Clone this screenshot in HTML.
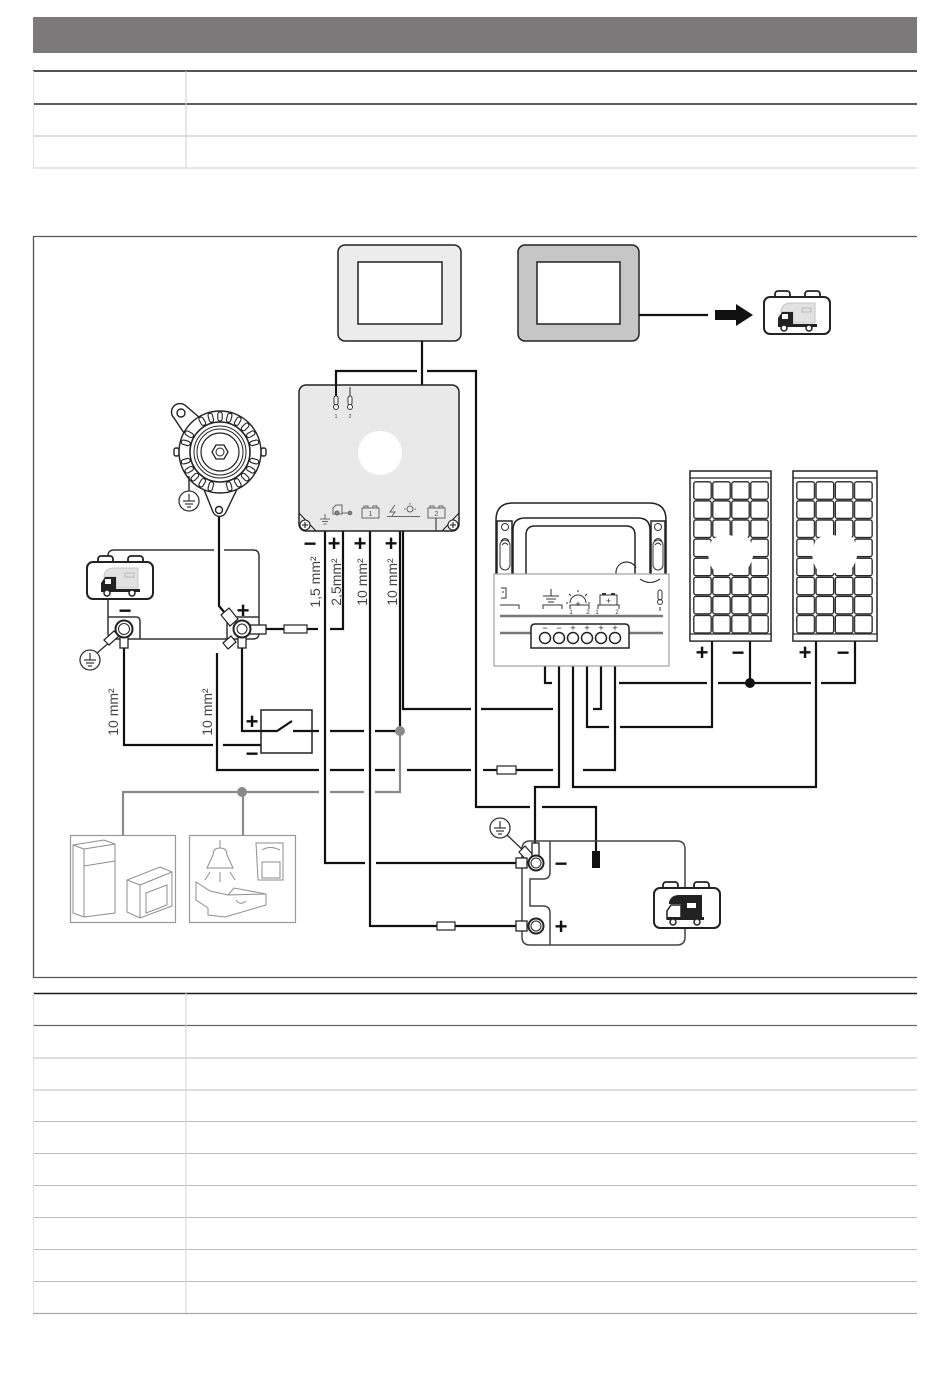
<!DOCTYPE html>
<html><head><meta charset="utf-8"><style>
html,body{margin:0;padding:0;background:#fff;}
svg{display:block;}
text{font-family:"Liberation Sans",sans-serif;}
</style></head><body>
<svg width="950" height="1392" viewBox="0 0 950 1392" xmlns="http://www.w3.org/2000/svg">
<defs>
<pattern id="cellsA" patternUnits="userSpaceOnUse" x="693" y="481" width="19" height="19.1">
<rect x="0.8" y="0.8" width="17.4" height="17.5" rx="2" fill="#fff" stroke="#222" stroke-width="1.3"/>
</pattern>
<pattern id="cellsB" patternUnits="userSpaceOnUse" x="796" y="481" width="19.25" height="19.1">
<rect x="0.8" y="0.8" width="17.6" height="17.5" rx="2" fill="#fff" stroke="#222" stroke-width="1.3"/>
</pattern>
<rect id="fin" x="-2.2" y="-40" width="4.4" height="9" rx="2.2" fill="#fff" stroke="#222" stroke-width="1.1"/>
<g id="truckLight">
<rect x="11" y="-6" width="15" height="8" rx="3" fill="#fff" stroke="#222" stroke-width="1.8"/>
<rect x="41" y="-6" width="15" height="8" rx="3" fill="#fff" stroke="#222" stroke-width="1.8"/>
<rect x="0" y="0" width="66" height="37" rx="6" fill="#fff" stroke="#222" stroke-width="2"/>
<path d="M17,13 Q19,6 27,6 H51 V26 H29 V15 H17 Z" fill="#e2e2e2" stroke="#c4c4c4" stroke-width="1"/>
<rect x="38" y="11" width="9" height="4" fill="none" stroke="#bbb" stroke-width="1"/>
<path d="M14,29 V21 L18,15 H29 V29 Z" fill="#222"/>
<rect x="18" y="17" width="6" height="5" fill="#fff"/>
<rect x="14" y="27" width="39" height="3" fill="#222"/>
<circle cx="20" cy="31" r="3" fill="#fff" stroke="#222" stroke-width="1.5"/>
<circle cx="45" cy="31" r="3" fill="#fff" stroke="#222" stroke-width="1.5"/>
</g>
<g id="ground">
<circle cx="0" cy="0" r="10" fill="#fff" stroke="#333" stroke-width="1.3"/>
<line x1="0" y1="-7" x2="0" y2="0" stroke="#333" stroke-width="1.2"/>
<line x1="-6" y1="0" x2="6" y2="0" stroke="#333" stroke-width="1.2"/>
<line x1="-4" y1="3" x2="4" y2="3" stroke="#333" stroke-width="1.2"/>
<line x1="-2" y1="6" x2="2" y2="6" stroke="#333" stroke-width="1.2"/>
</g>
</defs>

<!-- Header bar -->
<rect x="33" y="17" width="884" height="36" fill="#7b7979"/>

<!-- Top table -->
<line x1="33" y1="71" x2="917" y2="71" stroke="#1a1a1a" stroke-width="1.6"/>
<line x1="33" y1="104" x2="917" y2="104" stroke="#2a2a2a" stroke-width="1.6"/>
<line x1="33" y1="136" x2="917" y2="136" stroke="#bdbdbd" stroke-width="1"/>
<line x1="33" y1="168" x2="917" y2="168" stroke="#cfcfcf" stroke-width="1"/>
<line x1="186" y1="71" x2="186" y2="168" stroke="#cfcfcf" stroke-width="1"/>
<line x1="33.5" y1="71" x2="33.5" y2="168" stroke="#e0e0e0" stroke-width="1"/>

<!-- Diagram frame -->
<path d="M917,236.5 H33.5 V977.5 H917" fill="none" stroke="#555" stroke-width="1.3"/>

<!-- Bottom table -->
<line x1="33" y1="993.5" x2="917" y2="993.5" stroke="#1a1a1a" stroke-width="1.6"/>
<line x1="33" y1="1025.5" x2="917" y2="1025.5" stroke="#666" stroke-width="1.3"/>
<g stroke="#bdbdbd" stroke-width="1">
<line x1="33" y1="1058" x2="917" y2="1058"/>
<line x1="33" y1="1090" x2="917" y2="1090"/>
<line x1="33" y1="1121.5" x2="917" y2="1121.5"/>
<line x1="33" y1="1153.5" x2="917" y2="1153.5"/>
<line x1="33" y1="1185.5" x2="917" y2="1185.5"/>
<line x1="33" y1="1217.5" x2="917" y2="1217.5"/>
<line x1="33" y1="1249.5" x2="917" y2="1249.5"/>
<line x1="33" y1="1281.5" x2="917" y2="1281.5"/>
</g>
<line x1="33" y1="1313.5" x2="917" y2="1313.5" stroke="#a8a8a8" stroke-width="1.3"/>
<line x1="186" y1="993" x2="186" y2="1313" stroke="#d0d0d0" stroke-width="1"/>
<line x1="33.5" y1="993" x2="33.5" y2="1313" stroke="#e0e0e0" stroke-width="1"/>

<!-- ===== Displays ===== -->
<rect x="338" y="245" width="123" height="96" rx="7" fill="#ececec" stroke="#222" stroke-width="1.5"/>
<rect x="358" y="262" width="84" height="62" fill="#fff" stroke="#222" stroke-width="1.5"/>
<rect x="518" y="245" width="121" height="96" rx="7" fill="#c6c6c6" stroke="#222" stroke-width="1.5"/>
<rect x="537" y="262" width="83" height="62" fill="#fff" stroke="#222" stroke-width="1.5"/>
<line x1="639" y1="315" x2="708" y2="315" stroke="#111" stroke-width="2.2"/>
<rect x="715" y="310" width="22" height="10" fill="#111"/>
<polygon points="736,304 753,315 736,326" fill="#111"/>
<use href="#truckLight" transform="translate(764,297)"/>

<!-- ===== Wires (black) ===== -->
<g fill="none" stroke="#111" stroke-width="2.2" stroke-linejoin="miter">
<line x1="422" y1="341" x2="422" y2="385"/>
<polyline points="336,397 336,371 417,371"/>
<polyline points="427,371 476,371 476,807 530,807"/>
<polyline points="542,807 596,807 596,852"/>
<!-- control unit outputs -->
<polyline points="325,524 325,863 365,863"/>
<line x1="376" y1="863" x2="516" y2="863"/>
<polyline points="343,513 343,629 330,629"/>
<line x1="318" y1="629" x2="307" y2="629"/>
<line x1="284" y1="629" x2="266" y2="629"/>
<polyline points="370,518 370,926 437,926"/>
<line x1="455" y1="926" x2="516" y2="926"/>
<polyline points="403,516 403,709 471,709"/>
<line x1="481" y1="709" x2="553" y2="709"/>
<line x1="400" y1="516" x2="400" y2="731"/>
<!-- switch line -->
<line x1="293" y1="731" x2="319" y2="731"/>
<line x1="330" y1="731" x2="364" y2="731"/>
<line x1="375" y1="731" x2="400" y2="731"/>
<!-- y=770 line -->
<polyline points="217,653 217,770 319,770"/>
<line x1="330" y1="770" x2="364" y2="770"/>
<line x1="375" y1="770" x2="395" y2="770"/>
<line x1="407" y1="770" x2="471" y2="770"/>
<line x1="483" y1="770" x2="497" y2="770"/>
<line x1="516" y1="770" x2="553" y2="770"/>
<!-- starter battery negative to switch -->
<polyline points="124,648 124,745 213,745"/>
<line x1="223" y1="745" x2="261" y2="745"/>
<polyline points="242,648 242,731 277,731 292,721"/>
<!-- alternator to battery + -->
<polyline points="219,515 219,606 230,619"/>
<!-- solar terminals -->
<polyline points="545,643 545,683 552,683"/>
<line x1="619" y1="683" x2="707" y2="683"/>
<line x1="718" y1="683" x2="811" y2="683"/>
<polyline points="821,683 855,683 855,641"/>
<line x1="750" y1="641" x2="750" y2="683"/>
<polyline points="559,643 559,787 535,787 535,843"/>
<polyline points="573,643 573,787 816,787 816,641"/>
<polyline points="587,643 587,727 609,727"/>
<polyline points="620,727 712,727 712,641"/>
<polyline points="601,643 601,709 593,709"/>
<polyline points="615,643 615,770 583,770"/>
</g>
<circle cx="750" cy="683" r="5" fill="#111"/>
<rect x="592" y="851" width="8" height="17" fill="#111"/>

<!-- fuses -->
<rect x="284" y="625" width="23" height="8" fill="#fff" stroke="#222" stroke-width="1.2"/>
<rect x="497" y="766" width="19" height="8" fill="#fff" stroke="#222" stroke-width="1.2"/>
<rect x="437" y="922" width="18" height="8" fill="#fff" stroke="#222" stroke-width="1.2"/>

<!-- gray wires -->
<g fill="none" stroke="#8a8a8a" stroke-width="2.2">
<polyline points="400,731 400,792 375,792"/>
<line x1="364" y1="792" x2="330" y2="792"/>
<polyline points="319,792 123,792 123,835"/>
<line x1="243" y1="792" x2="243" y2="835"/>
</g>
<circle cx="400" cy="731" r="5" fill="#8a8a8a"/>
<circle cx="242" cy="792" r="5" fill="#8a8a8a"/>

<!-- ===== Control unit ===== -->
<rect x="299" y="385" width="160" height="146" rx="7" fill="#e9e9e9" stroke="#222" stroke-width="1.5"/>
<circle cx="380" cy="453" r="22" fill="#fff"/>
<line x1="336" y1="385" x2="336" y2="397" stroke="#111" stroke-width="2"/>
<g stroke="#333" stroke-width="1" fill="#fff">
<rect x="334" y="396" width="4" height="9" rx="2"/>
<circle cx="336" cy="407" r="2.5"/>
<line x1="350" y1="387" x2="350" y2="397"/>
<rect x="348" y="396" width="4" height="9" rx="2"/>
<circle cx="350" cy="407" r="2.5"/>
</g>
<text x="336" y="418" font-size="5" text-anchor="middle" fill="#444">1</text>
<text x="350" y="418" font-size="5" text-anchor="middle" fill="#444">2</text>
<!-- corner screws -->
<g stroke="#222" stroke-width="1.1" fill="#fff">
<line x1="299" y1="513" x2="316" y2="531"/>
<circle cx="305" cy="525" r="5"/>
<line x1="302" y1="525" x2="308" y2="525"/><line x1="305" y1="522" x2="305" y2="528"/>
<line x1="459" y1="513" x2="442" y2="531"/>
<circle cx="453" cy="525" r="5"/>
<line x1="450" y1="525" x2="456" y2="525"/><line x1="453" y1="522" x2="453" y2="528"/>
</g>
<!-- bottom icons -->
<g stroke="#666" stroke-width="1" fill="none">
<line x1="325" y1="514" x2="325" y2="519"/>
<line x1="320" y1="519" x2="330" y2="519"/>
<line x1="322" y1="521.5" x2="328" y2="521.5"/>
<line x1="323.5" y1="524" x2="326.5" y2="524"/>
<path d="M333,514 V508 L336,505 H342 V514 Z"/>
<circle cx="337" cy="513" r="2" fill="#888"/>
<line x1="342" y1="513" x2="349" y2="513"/>
<circle cx="350" cy="513" r="1.8" fill="#888"/>
<rect x="362" y="508" width="17" height="10"/>
<rect x="364" y="506" width="4" height="2"/><rect x="373" y="506" width="4" height="2"/>
<path d="M395,505 L390,512 H395 L392,516"/>
<circle cx="410" cy="509" r="3"/>
<line x1="410" y1="503" x2="410" y2="504.5"/><line x1="404" y1="509" x2="405.5" y2="509"/><line x1="414.5" y1="509" x2="416" y2="509"/>
<line x1="387" y1="516.5" x2="420" y2="516.5"/>
<rect x="428" y="508" width="17" height="10"/>
<rect x="430" y="506" width="4" height="2"/><rect x="439" y="506" width="4" height="2"/>
</g>
<text x="370.5" y="516" font-size="7" text-anchor="middle" fill="#555">1</text>
<text x="436.5" y="516" font-size="7" text-anchor="middle" fill="#555">2</text>
<line x1="436" y1="518" x2="436" y2="531" stroke="#444" stroke-width="1.2"/>

<!-- +/- labels under unit -->
<g font-size="22" font-weight="bold" fill="#111" text-anchor="middle">
<text x="310" y="551">−</text>
<text x="334" y="551">+</text>
<text x="360" y="551">+</text>
<text x="391" y="551">+</text>
</g>
<!-- cross-section labels -->
<g font-size="14" fill="#444" text-anchor="middle">
<text x="320" y="582" transform="rotate(-90 320 582)">1,5 mm²</text>
<text x="341" y="582" transform="rotate(-90 341 582)">2,5mm²</text>
<text x="367" y="582" transform="rotate(-90 367 582)">10 mm²</text>
<text x="397" y="582" transform="rotate(-90 397 582)">10 mm²</text>
<text x="118" y="712" transform="rotate(-90 118 712)">10 mm²</text>
<text x="212" y="712" transform="rotate(-90 212 712)">10 mm²</text>
</g>

<!-- ===== Alternator ===== -->
<g stroke="#222" stroke-width="1.4" fill="#fff">
<path d="M200,418 L186,406 A8,8 0 1 0 174,418 L186,436 Z"/>
<circle cx="181" cy="413" r="4"/>
<path d="M203,487 L213,512 A7,7 0 0 0 226,512 L238,487 Z"/>
<circle cx="219" cy="510" r="3.5"/>
<rect x="174" y="448" width="5" height="8" rx="2"/>
<rect x="261" y="448" width="5" height="8" rx="2"/>
<circle cx="220" cy="452" r="41"/>
</g>
<g transform="translate(220,452)">
<use href="#fin" transform="rotate(0)"/><use href="#fin" transform="rotate(15)"/><use href="#fin" transform="rotate(30)"/><use href="#fin" transform="rotate(45)"/><use href="#fin" transform="rotate(60)"/><use href="#fin" transform="rotate(75)"/><use href="#fin" transform="rotate(105)"/><use href="#fin" transform="rotate(120)"/><use href="#fin" transform="rotate(135)"/><use href="#fin" transform="rotate(150)"/><use href="#fin" transform="rotate(165)"/><use href="#fin" transform="rotate(195)"/><use href="#fin" transform="rotate(210)"/><use href="#fin" transform="rotate(225)"/><use href="#fin" transform="rotate(240)"/><use href="#fin" transform="rotate(255)"/><use href="#fin" transform="rotate(285)"/><use href="#fin" transform="rotate(300)"/><use href="#fin" transform="rotate(330)"/><use href="#fin" transform="rotate(345)"/>
</g>
<g stroke="#222" fill="none">
<circle cx="220" cy="452" r="30" stroke-width="1.6"/>
<circle cx="220" cy="452" r="26" stroke-width="1"/>
<circle cx="220" cy="452" r="23" stroke-width="1"/>
<circle cx="220" cy="452" r="19" stroke-width="1.2"/>
<polygon points="228,452 224,459 216,459 212,452 216,445 224,445" stroke-width="1.3"/>
<circle cx="220" cy="452" r="4" stroke-width="1"/>
</g>
<line x1="189" y1="476" x2="189" y2="491" stroke="#222" stroke-width="1.4"/>
<use href="#ground" transform="translate(189,501)"/>

<!-- ===== Starter battery ===== -->
<g fill="none" stroke="#333" stroke-width="1.5">
<path d="M214,550 H114 Q108,550 108,556 V633 Q108,639 114,639 H253 Q259,639 259,633 V556 Q259,550 253,550 H224"/>
<path d="M108,617 H136 Q140,617 140,621 V639"/>
<path d="M227,639 V621 Q227,617 231,617 H259"/>
</g>
<use href="#truckLight" transform="translate(87,562)"/>
<!-- negative terminal -->
<line x1="97" y1="653" x2="117" y2="636" stroke="#333" stroke-width="1.4"/>
<path d="M104,640 L114,631 L119,636 L109,645 Z" fill="#fff" stroke="#222" stroke-width="1.2"/>
<rect x="120" y="634" width="8" height="14" fill="#fff" stroke="#222" stroke-width="1.3"/>
<circle cx="124" cy="629" r="8.5" fill="#fff" stroke="#222" stroke-width="2"/>
<circle cx="124" cy="629" r="5.5" fill="none" stroke="#222" stroke-width="1"/>
<use href="#ground" transform="translate(90,660)"/>
<!-- positive terminal -->
<path d="M221,615 L229,608 L238,619 L230,626 Z" fill="#fff" stroke="#222" stroke-width="1.2"/>
<path d="M223,643 L231,636 L236,642 L228,649 Z" fill="#fff" stroke="#222" stroke-width="1.2"/>
<rect x="238" y="634" width="8" height="14" fill="#fff" stroke="#222" stroke-width="1.3"/>
<rect x="249" y="625" width="17" height="9" fill="#fff" stroke="#222" stroke-width="1.3"/>
<circle cx="242" cy="629" r="8.5" fill="#fff" stroke="#222" stroke-width="2"/>
<circle cx="242" cy="629" r="5" fill="none" stroke="#222" stroke-width="1"/>
<g font-size="22" font-weight="bold" fill="#111" text-anchor="middle">
<text x="125" y="618">−</text>
<text x="243" y="618">+</text>
<text x="252" y="729">+</text>
<text x="252" y="761">−</text>
</g>
<!-- switch -->
<rect x="261" y="710" width="51" height="43" fill="none" stroke="#222" stroke-width="1.5"/>

<!-- ===== Appliances ===== -->
<rect x="70.5" y="835.5" width="105" height="87" fill="#fff" stroke="#999" stroke-width="1.2"/>
<rect x="189.5" y="835.5" width="106" height="87" fill="#fff" stroke="#999" stroke-width="1.2"/>
<g fill="none" stroke="#8e8e8e" stroke-width="1">
<path d="M73,845 L104,840 L115,844 V913 L84,917 L73,913 Z"/>
<path d="M84,849 L115,844 M84,849 V917 M73,845 L84,849 M84,866 L115,861"/>
<path d="M127,880 L160,867 L172,872 V906 L140,918 L127,912 Z"/>
<path d="M140,885 L172,872 M140,885 V918 M127,880 L140,885"/>
<path d="M146,893 L167,885 V905 L146,913 Z"/>
<line x1="220" y1="840" x2="220" y2="848"/>
<path d="M213,855 Q213,848 220,848 Q227,848 227,855 L233,868 H207 Z"/>
<path d="M210,872 L205,880 M220,872 V882 M230,872 L235,880"/>
<path d="M256,843 H283 V880 H258 Z M262,850 Q270,845 280,850 M262,862 H280 V878 H262 Z"/>
<path d="M196,882 V900 L208,908 L208,915 L225,917 L266,905 V894 L234,888 L228,895 L210,891 Z"/>
<path d="M228,895 L266,894 M236,900 Q240,906 246,901"/>
</g>

<!-- ===== Solar controller ===== -->
<g fill="#fff" stroke="#222" stroke-width="1.5">
<path d="M496,575 V520 Q496,503 513,503 H649 Q666,503 666,520 V575"/>
<path d="M513,575 V530 Q513,518 525,518 H638 Q650,518 650,530 V575" fill="none"/>
<path d="M526,575 V535 Q526,526 535,526 H626 Q635,526 635,535 V575" fill="none"/>
<rect x="497" y="521" width="15" height="54"/>
<rect x="651" y="521" width="14" height="54"/>
</g>
<g fill="none" stroke="#333" stroke-width="1">
<circle cx="505" cy="527" r="3.5"/>
<circle cx="658" cy="527" r="3.5"/>
<rect x="500" y="540" width="10" height="30" rx="5"/>
<rect x="653" y="540" width="10" height="30" rx="5"/>
<path d="M501,541 Q505,536 509,541 M502,545 Q505,541 508,545"/>
<path d="M654,541 Q658,536 662,541 M655,545 Q658,541 661,545"/>
<path d="M617,577 A10,10 0 0 1 636,568" stroke-width="1.2"/>
</g>
<rect x="494" y="574" width="175" height="92" fill="#fff" stroke="#a0a0a0" stroke-width="1.2"/>
<line x1="500" y1="616" x2="663" y2="616" stroke="#777" stroke-width="2.5"/>
<line x1="500" y1="633" x2="531" y2="633" stroke="#777" stroke-width="2.5"/>
<line x1="629" y1="633" x2="663" y2="633" stroke="#777" stroke-width="2.5"/>
<path d="M640,579 Q650,586 660,579" fill="none" stroke="#333" stroke-width="1.1"/>
<g fill="none" stroke="#333" stroke-width="1">
<path d="M501,588 H506 V598 H501 M502,592 H504"/>
<path d="M500,605 H519 V609"/>
<line x1="551" y1="589" x2="551" y2="596"/>
<line x1="543" y1="596" x2="559" y2="596"/>
<line x1="546" y1="599" x2="556" y2="599"/>
<line x1="548" y1="602" x2="554" y2="602"/>
<path d="M543,609 V605 H562 V609"/>
<path d="M570,603 A8,8 0 0 1 586,603"/>
<path d="M578,590 V592 M569,594 L571,596 M587,594 L585,596 M566,603 H568 M588,603 H590"/>
<path d="M570,609 V605 H589 V609"/>
<rect x="600" y="595" width="17" height="10"/>
<path d="M602,594 H606 M611,594 H615" stroke-width="2"/>
<path d="M598,609 V605 H619 V609"/>
<rect x="658" y="590" width="4" height="10" rx="2"/>
<circle cx="660" cy="602" r="2.5"/>
<line x1="660" y1="607" x2="660" y2="611"/>
</g>
<g font-size="9" fill="#333" text-anchor="middle">
<text x="578" y="607">+</text>
<text x="608.5" y="604">+</text>
</g>
<g font-size="6" fill="#333" text-anchor="middle">
<text x="571" y="614">1</text><text x="588" y="614">2</text>
<text x="597" y="614">1</text><text x="617" y="614">2</text>
</g>
<path d="M531,648 V628 Q531,624 535,624 H625 Q629,624 629,628 V648 Z" fill="#fff" stroke="#222" stroke-width="1.5"/>
<g font-size="9" fill="#222" text-anchor="middle">
<text x="545" y="631">−</text><text x="559" y="631">−</text>
<text x="573" y="631">+</text><text x="587" y="631">+</text>
<text x="601" y="631">+</text><text x="615" y="631">+</text>
</g>
<g fill="#fff" stroke="#222" stroke-width="1.5">
<circle cx="545" cy="638" r="5.5"/><circle cx="559" cy="638" r="5.5"/>
<circle cx="573" cy="638" r="5.5"/><circle cx="587" cy="638" r="5.5"/>
<circle cx="601" cy="638" r="5.5"/><circle cx="615" cy="638" r="5.5"/>
</g>

<!-- ===== Solar panels ===== -->
<rect x="690" y="471" width="81" height="170" fill="#fff" stroke="#222" stroke-width="1.5"/>
<line x1="690" y1="478" x2="771" y2="478" stroke="#222" stroke-width="1.2"/>
<rect x="693" y="481" width="76" height="153" fill="url(#cellsA)"/>
<rect x="690" y="634" width="81" height="7" fill="#fff" stroke="#222" stroke-width="1.2"/>
<path d="M712,540 Q722,532 733,536 Q745,530 751,542 Q756,553 750,565 Q744,576 730,573 Q716,577 711,566 Q705,553 712,540 Z" fill="#fff"/>
<rect x="793" y="471" width="84" height="170" fill="#fff" stroke="#222" stroke-width="1.5"/>
<line x1="793" y1="478" x2="877" y2="478" stroke="#222" stroke-width="1.2"/>
<rect x="796" y="481" width="77" height="153" fill="url(#cellsB)"/>
<rect x="793" y="634" width="84" height="7" fill="#fff" stroke="#222" stroke-width="1.2"/>
<path d="M816,540 Q826,532 837,536 Q849,530 855,542 Q860,553 854,565 Q848,576 834,573 Q820,577 815,566 Q809,553 816,540 Z" fill="#fff"/>
<g font-size="22" font-weight="bold" fill="#111" text-anchor="middle">
<text x="702" y="660">+</text><text x="738" y="660">−</text>
<text x="805" y="660">+</text><text x="843" y="660">−</text>
</g>

<!-- ===== Leisure battery ===== -->
<g fill="none" stroke="#444" stroke-width="1.5">
<path d="M530,841 H677 Q685,841 685,849 V937 Q685,945 677,945 H530 Q522,945 522,937 V849 Q522,841 530,841 Z"/>
<path d="M550,841 V872 Q550,879 543,879 H530 V906 H543 Q550,906 550,913 V945"/>
</g>
<line x1="507" y1="835" x2="527" y2="854" stroke="#333" stroke-width="1.4"/>
<use href="#ground" transform="translate(500,828)"/>
<path d="M519,852 L525,846 L534,856 L528,862 Z" fill="#fff" stroke="#222" stroke-width="1.2"/>
<rect x="532" y="843" width="7" height="14" fill="#fff" stroke="#222" stroke-width="1.3"/>
<rect x="516" y="858" width="11" height="10" fill="#fff" stroke="#222" stroke-width="1.3"/>
<circle cx="536" cy="863" r="7.5" fill="#fff" stroke="#222" stroke-width="2"/>
<circle cx="536" cy="863" r="5" fill="none" stroke="#222" stroke-width="1"/>
<rect x="516" y="921" width="11" height="10" fill="#fff" stroke="#222" stroke-width="1.3"/>
<circle cx="536" cy="926" r="7.5" fill="#fff" stroke="#222" stroke-width="2"/>
<circle cx="536" cy="926" r="5" fill="none" stroke="#222" stroke-width="1"/>
<g font-size="22" font-weight="bold" fill="#111" text-anchor="middle">
<text x="561" y="871">−</text>
<text x="561" y="934">+</text>
</g>
<g transform="translate(654,888)">
<rect x="9" y="-6" width="15" height="8" rx="3" fill="#fff" stroke="#222" stroke-width="1.8"/>
<rect x="40" y="-6" width="15" height="8" rx="3" fill="#fff" stroke="#222" stroke-width="1.8"/>
<rect x="0" y="0" width="66" height="40" rx="6" fill="#fff" stroke="#222" stroke-width="2"/>
<path d="M15,14 Q17,7 25,7 H48 V29 H27 V16 H15 Z" fill="#222"/>
<rect x="33" y="15" width="9" height="5" fill="#fff"/>
<path d="M13,31 V23 L17,17 H27 V31 Z" fill="#fff" stroke="#222" stroke-width="1.5"/>
<rect x="13" y="29" width="37" height="3" fill="#222"/>
<circle cx="19" cy="34" r="3" fill="#fff" stroke="#222" stroke-width="1.5"/>
<circle cx="43" cy="34" r="3" fill="#fff" stroke="#222" stroke-width="1.5"/>
</g>
</svg>
</body></html>
